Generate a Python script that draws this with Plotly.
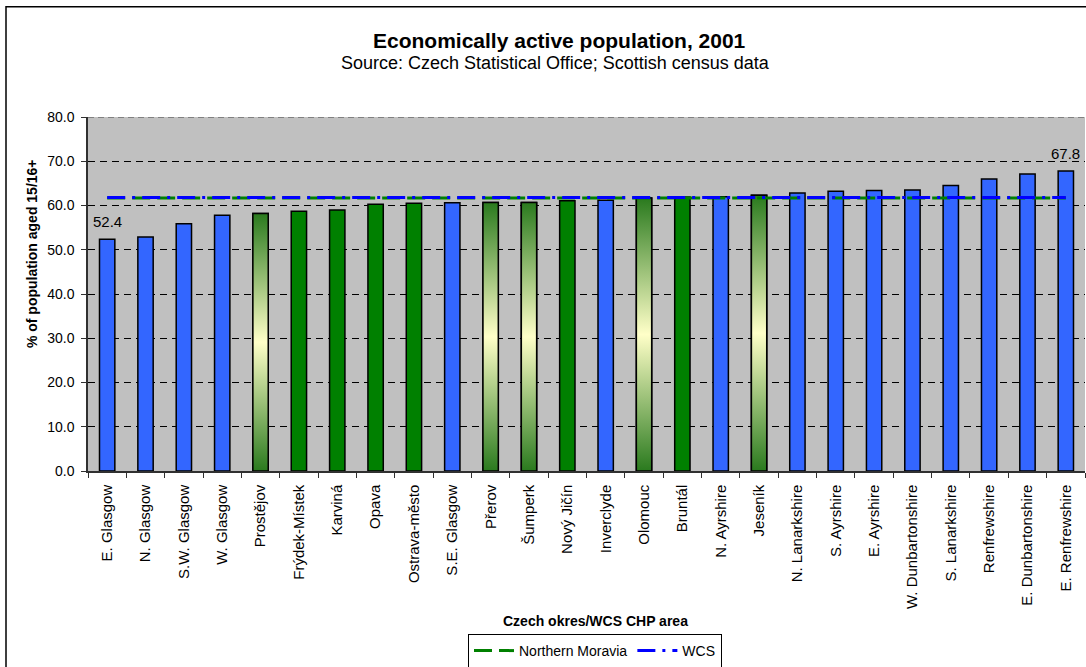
import plotly.graph_objects as go

# ---------------- data ----------------
categories = ["E. Glasgow", "N. Glasgow", "S.W. Glasgow", "W. Glasgow", "Prostějov",
              "Frýdek-Místek", "Karviná", "Opava", "Ostrava-město", "S.E. Glasgow",
              "Přerov", "Šumperk", "Nový Jičín", "Inverclyde", "Olomouc", "Bruntál",
              "N. Ayrshire", "Jeseník", "N. Lanarkshire", "S. Ayrshire", "E. Ayrshire",
              "W. Dunbartonshire", "S. Lanarkshire", "Renfrewshire", "E. Dunbartonshire",
              "E. Renfrewshire"]
values = [52.4, 52.9, 55.9, 57.8, 58.2, 58.7, 59.0, 60.3, 60.5, 60.6, 60.7, 60.7, 61.1,
          61.2, 61.7, 61.9, 62.0, 62.3, 62.8, 63.2, 63.4, 63.5, 64.5, 66.0, 67.1, 67.8]
# region group: WCS = West of Scotland CHP, MS = Moravian-Silesian okres, OL = Olomouc okres
groups = ["WCS", "WCS", "WCS", "WCS", "OL", "MS", "MS", "MS", "MS", "WCS", "OL", "OL", "MS",
          "WCS", "OL", "MS", "WCS", "OL", "WCS", "WCS", "WCS", "WCS", "WCS", "WCS", "WCS", "WCS"]
northern_moravia_avg = 61.7
wcs_avg = 61.8
labelled = ["E. Glasgow", "E. Renfrewshire"]
y_ticks = [0, 10, 20, 30, 40, 50, 60, 70, 80]

# ---------------- layout helpers ----------------
W, H = 1086, 667
L, R, T, B = 88, 1085, 116.5, 471.5
def px_x(p):
    return (p - L) / (R - L)
def px_y(p):
    return (B - p) / (B - T)

FONT = "Liberation Sans, Arial, sans-serif"
BLUE = "#3366FF"
GREEN = "#008000"
BAR_W = 0.4

idx = list(range(len(categories)))
colors = {"WCS": BLUE, "MS": GREEN, "OL": "#2e7d20"}

fig = go.Figure()
fig.add_trace(go.Bar(
    x=idx, y=values, width=BAR_W,
    marker=dict(color=[colors[g] for g in groups], line=dict(color="black", width=1.5)),
    showlegend=False, hoverinfo="x+y"))

# gradient-filled bars (Olomouc region okresy)
for i, (v, g) in enumerate(zip(values, groups)):
    if g != "OL":
        continue
    fig.add_trace(go.Scatter(
        x=[i - BAR_W / 2, i + BAR_W / 2, i + BAR_W / 2, i - BAR_W / 2, i - BAR_W / 2],
        y=[0, 0, v, v, 0], mode="lines", fill="toself",
        fillgradient=dict(type="vertical",
                          colorscale=[[0, "#2a7a1e"], [0.5, "#ffffc8"], [1, "#2a7a1e"]]),
        line=dict(color="black", width=1.5), showlegend=False, hoverinfo="skip"))

fig.add_trace(go.Scatter(
    x=idx, y=[northern_moravia_avg] * len(idx), mode="lines", name="Northern Moravia",
    line=dict(color=GREEN, width=3, dash="18px,7px")))
fig.add_trace(go.Scatter(
    x=idx, y=[wcs_avg] * len(idx), mode="lines", name="WCS",
    line=dict(color="#0000FF", width=3, dash="18px,7px,3px,7px")))

annotations = []
for c, v, i in zip(categories, values, idx):
    if c in labelled:
        annotations.append(dict(x=i, y=v, xref="x", yref="y", text=f"{v:.1f}",
                                showarrow=False, xanchor="center", yanchor="bottom", yshift=7,
                                font=dict(family=FONT, size=15, color="black")))

annotations += [
    dict(x=px_x(559), y=px_y(40), xref="paper", yref="paper", showarrow=False,
         xanchor="center", yanchor="middle",
         text="<b>Economically active population, 2001</b>",
         font=dict(family=FONT, size=21, color="black")),
    dict(x=px_x(555), y=px_y(62), xref="paper", yref="paper", showarrow=False,
         xanchor="center", yanchor="middle",
         text="Source: Czech Statistical Office; Scottish census data",
         font=dict(family=FONT, size=18, color="black")),
    dict(x=px_x(32), y=px_y(254), xref="paper", yref="paper", showarrow=False,
         xanchor="center", yanchor="middle",
         text="<b>% of population aged 15/16+</b>", textangle=-90,
         font=dict(family=FONT, size=14, color="black")),
    dict(x=px_x(595), y=px_y(622), xref="paper", yref="paper", showarrow=False,
         xanchor="center", yanchor="middle",
         text="<b>Czech okres/WCS CHP area</b>",
         font=dict(family=FONT, size=14, color="black")),
]

shapes = [
    dict(type="line", xref="paper", yref="y", x0=0, x1=1, y0=80, y1=80,
         line=dict(color="#808080", width=2, dash="6px,4px"), layer="above"),
    dict(type="rect", xref="paper", yref="paper", x0=px_x(6), x1=px_x(1100),
         y0=px_y(690), y1=px_y(6), line=dict(color="black", width=1.5),
         fillcolor="rgba(0,0,0,0)"),
]

fig.update_layout(
    width=W, height=H,
    margin=dict(l=L, r=W - R, t=T, b=H - B, autoexpand=False),
    paper_bgcolor="white", plot_bgcolor="#C0C0C0",
    font=dict(family=FONT, size=14, color="black"),
    annotations=annotations, shapes=shapes,
    legend=dict(orientation="h", x=px_x(595), y=px_y(652), xanchor="center",
                yanchor="middle", bordercolor="black", borderwidth=1, bgcolor="white",
                font=dict(family=FONT, size=14, color="black"),
                itemwidth=40, tracegroupgap=0),
    xaxis=dict(range=[-0.5, len(idx) - 0.5], tickmode="array", tickvals=idx,
               ticktext=categories, tickangle=-90, ticks="", showgrid=False,
               zeroline=False, showline=True, linecolor="#303030", linewidth=1.5,
               ticklabelstandoff=6,
               tickfont=dict(family=FONT, size=15, color="black"),
               minor=dict(tickmode="array", tickvals=[i - 0.5 for i in range(len(idx) + 1)],
                          ticks="outside", ticklen=5, tickcolor="#303030", tickwidth=1,
                          showgrid=False)),
    yaxis=dict(range=[0, 80], tickmode="array", tickvals=y_ticks,
               ticktext=[f"{t:.1f}" for t in y_ticks], ticks="outside", ticklen=5,
               tickcolor="#303030", showgrid=True, gridcolor="black", gridwidth=1,
               griddash="7px,5px", zeroline=False, showline=True, linecolor="#303030",
               linewidth=1.5, ticklabelstandoff=4,
               tickfont=dict(family=FONT, size=14, color="black")),
    bargap=0.6,
)

fig.write_html("out.html")
